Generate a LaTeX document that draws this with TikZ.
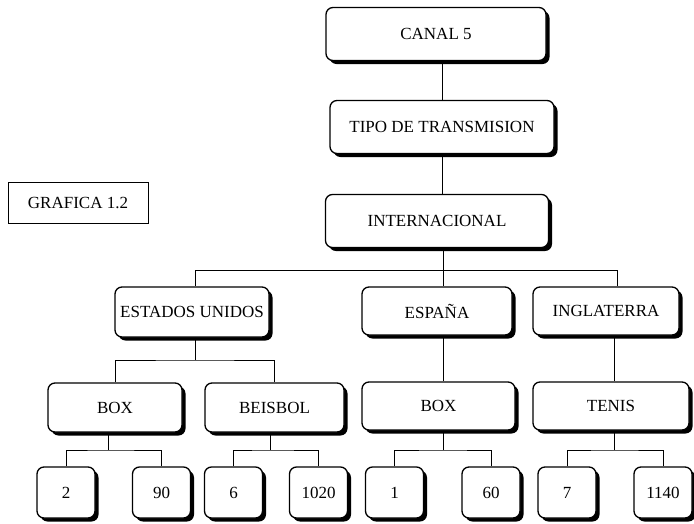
\documentclass[tikz,border=0pt]{standalone}
\usepackage{fontspec}
\setmainfont{Liberation Serif}
\usetikzlibrary{shadows}

\begin{document}
\begin{tikzpicture}[x=1pt, y=-1pt,
  caja/.style={draw, line width=1.3pt, rounded corners=7pt, fill=white, inner sep=0pt,
    font=\fontsize{17}{20}\selectfont,
    drop shadow={shadow xshift=3.5pt, shadow yshift=-3.5pt, fill=black, opacity=1}},
  hoja/.style={caja, minimum width=58pt, minimum height=51pt},
  linea/.style={line width=1pt}]
  \useasboundingbox (0,0) rectangle (694,523);

  % Title
  \node[draw, line width=0.9pt, minimum width=140pt, minimum height=41pt,
    font=\fontsize{17}{20}\selectfont] (grafica) at (78,202.5) {GRAFICA 1.2};

  % Top chain
  \node[caja, minimum width=220pt, minimum height=53pt] (canal) at (436,34) {CANAL 5};
  \node[caja, minimum width=224pt, minimum height=53pt] (tipo) at (442,127) {TIPO DE TRANSMISION};
  \node[caja, minimum width=223pt, minimum height=53pt] (inter) at (437,221) {INTERNACIONAL};
  \draw[linea] (tipo.north) -- (tipo.north |- canal.south);
  \draw[linea] (tipo.south) -- (tipo.south |- inter.north);

  % Countries
  \node[caja, minimum width=154pt, minimum height=50pt] (eu) at (192,312) {ESTADOS UNIDOS};
  \node[caja, minimum width=150pt, minimum height=48pt] (espana) at (437,311) {ESPAÑA};
  \node[caja, minimum width=146pt, minimum height=48pt] (ingla) at (606,311) {INGLATERRA};
  \coordinate (bus0) at (443,270);
  \coordinate (bus1) at (195,270);
  \coordinate (bus2) at (617,270);
  \draw[linea] (bus0 |- inter.south) -- (bus0);
  \draw[linea] (bus1) -- (bus2);
  \draw[linea] (bus1) -- (bus1 |- eu.north);
  \draw[linea] (bus0) -- (bus0 |- espana.north);
  \draw[linea] (bus2) -- (bus2 |- ingla.north);

  % Sports
  \node[caja, minimum width=134pt, minimum height=49pt] (box1) at (115,407.5) {BOX};
  \node[caja, minimum width=139pt, minimum height=49pt] (beis) at (274.5,407.5) {BEISBOL};
  \node[caja, minimum width=153pt, minimum height=48pt] (box2) at (438.5,406) {BOX};
  \node[caja, minimum width=156pt, minimum height=48pt] (tenis) at (611,406) {TENIS};
  \coordinate (eubus) at (195,360);
  \draw[linea] (eubus |- eu.south) -- (eubus);
  \draw[linea] (box1.north) |- (eubus) -| (beis.north);
  \draw[linea] (bus0 |- espana.south) -- (bus0 |- box2.north);
  \coordinate (inbus) at (614,360);
  \draw[linea] (inbus |- ingla.south) -- (inbus |- tenis.north);

  % Numbers
  \node[hoja] (n2) at (66,492.5) {2};
  \node[hoja] (n90) at (161.5,492.5) {90};
  \node[hoja] (n6) at (233.5,492.5) {6};
  \node[hoja] (n1020) at (318.5,492.5) {1020};
  \node[hoja] (n1) at (394.5,492.5) {1};
  \node[hoja] (n60) at (491,492.5) {60};
  \node[hoja] (n7) at (567,492.5) {7};
  \node[hoja] (n1140) at (663,492.5) {1140};
  \coordinate (b1) at (108,450);
  \coordinate (b2) at (270,450);
  \coordinate (b3) at (443,450);
  \coordinate (b4) at (614,450);
  \draw[linea] (b1 |- box1.south) -- (b1);
  \draw[linea] (n2.north) |- (b1) -| (n90.north);
  \draw[linea] (b2 |- beis.south) -- (b2);
  \draw[linea] (n6.north) |- (b2) -| (n1020.north);
  \draw[linea] (b3 |- box2.south) -- (b3);
  \draw[linea] (n1.north) |- (b3) -| (n60.north);
  \draw[linea] (b4 |- tenis.south) -- (b4);
  \draw[linea] (n7.north) |- (b4) -| (n1140.north);
\end{tikzpicture}
\end{document}
